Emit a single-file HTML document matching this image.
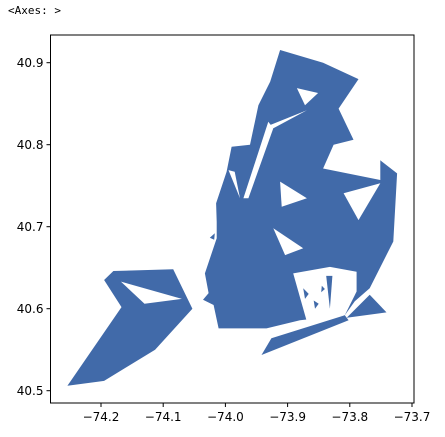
<!DOCTYPE html>
<html><head><meta charset="utf-8">
<style>
html,body{margin:0;padding:0;background:#fff;}
body{width:445px;height:433px;overflow:hidden;font-family:"DejaVu Sans","Liberation Sans",sans-serif;}
</style></head>
<body>
<svg id="chart" width="445" height="433" viewBox="0 0 445 433" xmlns="http://www.w3.org/2000/svg">
<text x="8" y="14" font-family="DejaVu Sans Mono, Liberation Mono, monospace" font-size="11" fill="#000">&lt;Axes: &gt;</text>
<g id="marks"></g>
<rect x="50.5" y="35" width="363.5" height="368" fill="none" stroke="#000" stroke-width="1"/>
<g id="axes"></g>
</svg>
<script>
const xTicks = [-74.2, -74.1, -74.0, -73.9, -73.8, -73.7];
const yTicks = [40.5, 40.6, 40.7, 40.8, 40.9];
const fillShapes = [
  // Staten Island
  [[-74.254,40.506],[-74.195,40.512],[-74.113,40.550],[-74.053,40.600],[-74.084,40.648],[-74.180,40.646],[-74.195,40.635],[-74.167,40.602]],
  // Main body
  [[-73.912,40.9155],[-73.843,40.900],[-73.786,40.880],[-73.818,40.844],[-73.794,40.806],[-73.826,40.800],[-73.843,40.771],[-73.751,40.757],[-73.751,40.781],[-73.724,40.765],[-73.730,40.682],[-73.768,40.625],[-73.792,40.609],[-73.808,40.592],[-73.880,40.586],[-73.934,40.576],[-74.011,40.576],[-74.019,40.6045],[-74.036,40.611],[-74.027,40.619],[-74.033,40.643],[-74.014,40.686],[-74.014,40.706],[-74.015,40.7285],[-73.998,40.767],[-73.990,40.7976],[-73.9605,40.800],[-73.947,40.848],[-73.928,40.877]]
];
const gapShapes = [
  [[-73.891,40.643],[-73.832,40.651],[-73.789,40.645],[-73.789,40.621],[-73.808,40.592],[-73.869,40.584]],
  [[-73.885,40.869],[-73.851,40.863],[-73.872,40.848]],
  [[-73.928,40.824],[-73.869,40.842],[-73.923,40.820]],
  [[-73.931,40.828],[-73.971,40.7346],[-73.963,40.7346],[-73.923,40.820]],
  [[-73.810,40.7407],[-73.751,40.753],[-73.786,40.708]],
  [[-73.923,40.698],[-73.875,40.6736],[-73.904,40.6654]],
  [[-73.912,40.755],[-73.869,40.7346],[-73.9095,40.7244]],
  [[-73.995,40.769],[-73.9765,40.7346],[-73.985,40.767]],
  [[-74.168,40.633],[-74.070,40.612],[-74.130,40.606]]
];
const topShapes = [
  // Rockaway
  [[-73.942,40.5435],[-73.926,40.564],[-73.808,40.592],[-73.802,40.586]],
  // Queens SE piece
  [[-73.768,40.617],[-73.741,40.5955],[-73.805,40.589]],
  // bay islands
  [[-73.838,40.640],[-73.832,40.600],[-73.828,40.640]],
  [[-73.875,40.625],[-73.866,40.618],[-73.872,40.612]],
  [[-73.858,40.610],[-73.850,40.606],[-73.856,40.600]],
  [[-73.880,40.600],[-73.874,40.596],[-73.878,40.590]],
  [[-73.845,40.628],[-73.840,40.624],[-73.846,40.620]],
  [[-74.025,40.6866],[-74.017,40.692],[-74.018,40.684]]
];
const X0=50.5, X1=414, Y0=35, Y1=403;
function xs(lon){return 101+(lon+74.2)*622;}
function ys(lat){return 62.7-(lat-40.9)*820;}
const NS="http://www.w3.org/2000/svg";
const marks=document.getElementById('marks');
const axes=document.getElementById('axes');
function drawPolys(list,color,name){
  list.forEach(function(poly,i){
    const p=document.createElementNS(NS,'polygon');
    p.setAttribute('points',poly.map(function(c){return xs(c[0]).toFixed(1)+','+ys(c[1]).toFixed(1);}).join(' '));
    p.setAttribute('fill',color);
    
    
    marks.appendChild(p);
  });
}
drawPolys(fillShapes,'#416aa9','region');
drawPolys(gapShapes,'#ffffff','water-gap');
drawPolys(topShapes,'#416aa9','island');
xTicks.forEach(function(t){
  const x=xs(t);
  const l=document.createElementNS(NS,'line');
  l.setAttribute('x1',x);l.setAttribute('x2',x);l.setAttribute('y1',Y1);l.setAttribute('y2',Y1+4);
  l.setAttribute('stroke','#000');
  
  
  axes.appendChild(l);
  const tx=document.createElementNS(NS,'text');
  tx.setAttribute('x',x);tx.setAttribute('y',Y1+18);tx.setAttribute('text-anchor','middle');
  tx.setAttribute('font-size','12');
  tx.textContent='\u2212'+Math.abs(t).toFixed(1);
  
  
  axes.appendChild(tx);
});
yTicks.forEach(function(t){
  const y=ys(t);
  const l=document.createElementNS(NS,'line');
  l.setAttribute('x1',X0-4);l.setAttribute('x2',X0);l.setAttribute('y1',y);l.setAttribute('y2',y);
  l.setAttribute('stroke','#000');
  
  
  axes.appendChild(l);
  const tx=document.createElementNS(NS,'text');
  tx.setAttribute('x',X0-7);tx.setAttribute('y',y+4.5);tx.setAttribute('text-anchor','end');
  tx.setAttribute('font-size','12');
  tx.textContent=t.toFixed(1);
  
  
  axes.appendChild(tx);
});
</script>
</body></html>
